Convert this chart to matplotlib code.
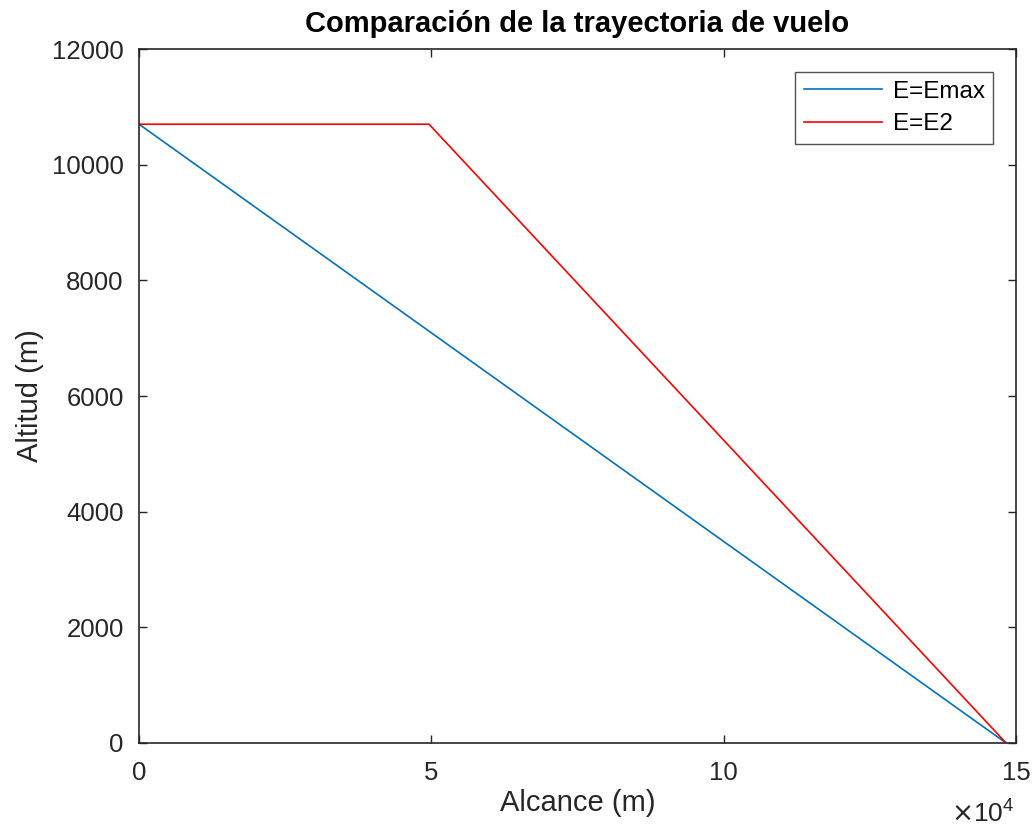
import matplotlib
matplotlib.use("Agg")
import matplotlib.pyplot as plt

plt.rcParams['font.family'] = ['Liberation Sans', 'DejaVu Sans']

# trayectorias (alcance en m, altitud en m)
alcance_emax = [0, 148300]
altitud_emax = [10700, 0]
alcance_e2 = [0, 49600, 148300]
altitud_e2 = [10700, 10700, 0]

x_ticks = [0, 50000, 100000, 150000]
x_ticklabels = ['0', '5', '10', '15']
y_ticks = [0, 2000, 4000, 6000, 8000, 10000, 12000]

fig = plt.figure(figsize=(10.36, 8.31), dpi=100)
ax = fig.add_axes([0.1342, 0.1059, 0.8465, 0.8351])

ax.plot(alcance_emax, altitud_emax, color='#0072BD', lw=1.2, label='E=Emax')
ax.plot(alcance_e2, altitud_e2, color='#FF0000', lw=1.2, label='E=E2')

ax.set_xlim(0, 150000)
ax.set_ylim(0, 12000)
ax.set_xticks(x_ticks)
ax.set_xticklabels(x_ticklabels)
ax.set_yticks(y_ticks)

ax.tick_params(direction='in', length=6, width=1.0, top=True, right=True,
               labelsize=18.5, colors='#262626')
ax.tick_params(axis='y', pad=11)
ax.tick_params(axis='x', pad=13)
for s in ax.spines.values():
    s.set_color('#262626')
    s.set_linewidth(1.2)

ax.set_xlabel('Alcance (m)', fontsize=21, color='#262626', labelpad=3)
ax.set_ylabel('Altitud (m)', fontsize=21, color='#262626', labelpad=6)
ax.set_title('Comparación de la trayectoria de vuelo', fontsize=21,
             fontweight='bold', color='#000000', pad=12)

fig.text(0.979, 0.004, r'$\times\mathregular{10^4}$', ha='right', va='bottom',
         fontsize=19, color='#262626')

leg = ax.legend(loc='upper right', fontsize=17.5, frameon=True, fancybox=False,
                edgecolor='#262626', handlelength=3.2, handletextpad=0.45,
                borderpad=0.35, labelspacing=0.45, borderaxespad=0,
                bbox_to_anchor=(0.9738, 0.9669))
leg.get_frame().set_linewidth(1.0)

fig.savefig('out.png', dpi=100, facecolor='white')
